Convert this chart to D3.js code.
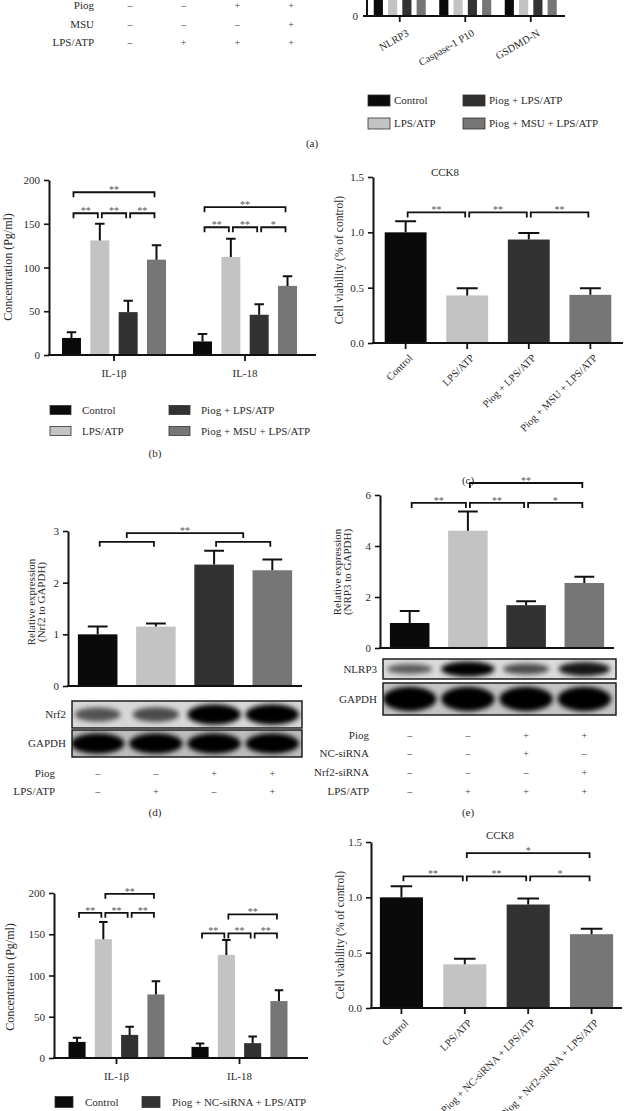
<!DOCTYPE html>
<html>
<head>
<meta charset="utf-8">
<script src="https://cdn.jsdelivr.net/npm/d3@7"></script>
<style>
  body { margin: 0; background: #fff; }
  svg { display: block; font-family: "Liberation Serif", "DejaVu Serif", serif; }
</style>
</head>
<body>
<svg id="fig" width="624" height="1111"></svg>
<script>
// ---- data ----
const groups1 = ["Control", "LPS/ATP", "Piog + LPS/ATP", "Piog + MSU + LPS/ATP"];
const groups2 = ["Control", "LPS/ATP", "Piog + NC-siRNA + LPS/ATP", "Piog + Nrf2-siRNA + LPS/ATP"];
const fills = ["#0a0a0a", "#c3c3c3", "#323232", "#767676"];

// (a) only the foot of the bars is visible
const proteinsA = ["NLRP3", "Caspase-1 P10", "GSDMD-N"];
const valuesA = [[1, 3.4, 1.6, 2.8], [1, 3.0, 1.5, 2.6], [1, 3.2, 1.4, 2.5]];
const tableA = [["Piog", ["–", "–", "+", "+"]], ["MSU", ["–", "–", "–", "+"]], ["LPS/ATP", ["–", "+", "+", "+"]]];

// (b) ELISA
const cytokines = ["IL-1β", "IL-18"];
const meanB = [[19.5, 131, 49, 109], [15.5, 112, 46, 79]];
const errB = [[6.5, 19, 13, 16.5], [8.5, 21, 12, 11]];
const sigB = [[0, 0, 1, 162, "**"], [0, 1, 2, 162, "**"], [0, 2, 3, 162, "**"], [0, 0, 3, 186, "**"],
              [1, 0, 1, 146, "**"], [1, 1, 2, 146, "**"], [1, 2, 3, 146, "*"], [1, 0, 3, 169, "**"]];

// (c) CCK8
const meanC = [1.0, 0.43, 0.935, 0.435];
const errC = [0.1, 0.065, 0.06, 0.06];
const sigC = [[0, 1, 1.18, "**"], [1, 2, 1.18, "**"], [2, 3, 1.18, "**"]];

// (d) Nrf2
const meanD = [1.0, 1.15, 2.35, 2.24];
const errD = [0.15, 0.06, 0.27, 0.21];
const sigD = [[0, 1, 2.79, ""], [2, 3, 2.79, ""], [0.5, 2.5, 2.96, "**"]];
const nrf2Bands = [0.45, 0.5, 1, 1];
const gapdhBandsD = [1, 1, 1, 1];
const tableD = [["Piog", ["–", "–", "+", "+"]], ["LPS/ATP", ["–", "+", "–", "+"]]];

// (e) NLRP3 with siRNA
const meanE = [0.98, 4.6, 1.68, 2.55];
const errE = [0.47, 0.75, 0.15, 0.24];
const sigE = [[0, 1, 5.69, "**"], [1, 2, 5.69, "**"], [2, 3, 5.69, "*"], [1, 3, 6.47, "**"]];
const nlrp3Bands = [0.4, 1, 0.5, 0.85];
const gapdhBandsE = [1, 1, 1, 1];
const tableE = [["Piog", ["–", "–", "+", "+"]], ["NC-siRNA", ["–", "–", "+", "–"]],
                ["Nrf2-siRNA", ["–", "–", "–", "+"]], ["LPS/ATP", ["–", "+", "+", "+"]]];

// (f) ELISA with siRNA
const meanF = [[19.5, 144, 28, 77], [13.5, 125, 18, 69]];
const errF = [[5, 21, 10, 16], [4, 18, 8, 13]];
const sigF = [[0, 0, 1, 176, "**"], [0, 1, 2, 176, "**"], [0, 2, 3, 176, "**"], [0, 1, 3, 199, "**"],
              [1, 0, 1, 151, "**"], [1, 1, 2, 151, "**"], [1, 2, 3, 151, "**"], [1, 1, 3, 174, "**"]];

// (g) CCK8 with siRNA
const meanG = [1.0, 0.395, 0.935, 0.667];
const errG = [0.1, 0.05, 0.055, 0.05];
const sigG = [[0, 1, 1.19, "**"], [1, 2, 1.19, "**"], [2, 3, 1.19, "*"], [1, 3, 1.4, "*"]];

// ---- drawing ----
const svg = d3.select("#fig");
const ink = "#111";
const txt = "#2a2a2a";

const defs = svg.append("defs");
defs.append("filter").attr("id", "blur").attr("x", "-30%").attr("y", "-80%").attr("width", "160%").attr("height", "260%")
  .append("feGaussianBlur").attr("stdDeviation", 2.6);
const grain = defs.append("filter").attr("id", "grain");
grain.append("feTurbulence").attr("type", "fractalNoise").attr("baseFrequency", 0.55).attr("numOctaves", 2).attr("seed", 3);
grain.append("feColorMatrix").attr("type", "saturate").attr("values", 0);

function yAxis(g, y, x0, ticks, fmt) {
  const ax = g.append("g")
    .attr("transform", `translate(${x0},0)`)
    .call(d3.axisLeft(y).tickValues(ticks).tickFormat(fmt).tickSize(5).tickSizeOuter(0).tickPadding(4));
  ax.attr("font-family", null).attr("font-size", 11);
  ax.select(".domain").attr("stroke", ink).attr("stroke-width", 2);
  ax.selectAll(".tick line").attr("stroke", ink).attr("stroke-width", 1.6);
  ax.selectAll(".tick text").attr("fill", txt);
  return ax;
}

function baseline(g, x0, x1, yy, tickXs) {
  g.append("line").attr("x1", x0 - 1).attr("x2", x1).attr("y1", yy).attr("y2", yy)
    .attr("stroke", ink).attr("stroke-width", 2);
  g.selectAll(null).data(tickXs).enter().append("line")
    .attr("x1", d => d).attr("x2", d => d).attr("y1", yy).attr("y2", yy + 6)
    .attr("stroke", ink).attr("stroke-width", 1.8);
}

function bars(g, xs, bw, y, means, errs) {
  g.selectAll(null).data(means).enter().append("rect")
    .attr("x", (d, i) => xs[i] - bw / 2).attr("width", bw)
    .attr("y", d => y(d)).attr("height", d => y(0) - y(d))
    .attr("fill", (d, i) => fills[i]);
  if (!errs) return;
  g.selectAll(null).data(means).enter().append("path")
    .attr("d", (d, i) => `M${xs[i]},${y(d)}V${y(d + errs[i])}M${xs[i] - bw / 4},${y(d + errs[i])}H${xs[i] + bw / 4}`)
    .attr("fill", "none").attr("stroke", ink).attr("stroke-width", 2);
}

function bracket(g, xs, a, b, yy, label) {
  const at = i => {
    const k = Math.floor(i);
    return i === k ? xs[k] : xs[k] + (xs[k + 1] - xs[k]) * (i - k);
  };
  const xa = at(a) + (Number.isInteger(a) ? 2 : 0);
  const xb = at(b) - (Number.isInteger(b) ? 2 : 0);
  g.append("path").attr("d", `M${xa},${yy + 5}V${yy}H${xb}V${yy + 5}`)
    .attr("fill", "none").attr("stroke", ink).attr("stroke-width", 1.8);
  if (label) {
    g.append("text").attr("x", (xa + xb) / 2).attr("y", yy + 1)
      .attr("text-anchor", "middle").attr("font-size", 10).attr("fill", "#555").text(label);
  }
}

function yTitle(g, lines, x, yy, size) {
  lines.forEach((t, i) => {
    g.append("text").attr("transform", `translate(${x + i * 10},${yy}) rotate(-90)`)
      .attr("text-anchor", "middle").attr("dy", "0.35em").attr("font-size", size).attr("fill", txt).text(t);
  });
}

function rotatedLabels(g, xs, yy, labels, angle, dx) {
  g.selectAll(null).data(labels).enter().append("text")
    .attr("transform", (d, i) => `translate(${xs[i] + dx},${yy}) rotate(${angle})`)
    .attr("text-anchor", "end").attr("dy", "0.35em").attr("font-size", 10.5).attr("fill", txt)
    .text(d => d);
}

function legend(g, items, colX, rowY, boxW, boxH, off) {
  items.forEach((name, i) => {
    const row = i % 2;
    if (row >= rowY.length) return;
    const cx = colX[Math.floor(i / 2)], cy = rowY[row];
    g.append("rect").attr("x", cx).attr("y", cy - boxH / 2).attr("width", boxW).attr("height", boxH)
      .attr("fill", fills[i]).attr("stroke", "#333").attr("stroke-width", 0.8);
    g.append("text").attr("x", cx + off).attr("y", cy).attr("dy", "0.35em")
      .attr("font-size", 11).attr("fill", txt).text(name);
  });
}

function table(g, rows, labelX, colXs, rowYs) {
  rows.forEach(([name, signs], r) => {
    g.append("text").attr("x", labelX).attr("y", rowYs[r]).attr("dy", "0.35em")
      .attr("text-anchor", "end").attr("font-size", 11).attr("fill", txt).text(name);
    signs.forEach((s, c) => {
      g.append("text").attr("x", colXs[c]).attr("y", rowYs[r]).attr("dy", "0.35em")
        .attr("text-anchor", "middle").attr("font-size", 10).attr("fill", "#444").text(s);
    });
  });
}

let clipN = 0;
function blot(g, name, xs, x0, x1, top, h, levels, bg, labelX) {
  const id = "clip" + (clipN++);
  defs.append("clipPath").attr("id", id).append("rect").attr("x", x0).attr("y", top).attr("width", x1 - x0).attr("height", h);
  const gb = g.append("g").attr("clip-path", `url(#${id})`);
  gb.append("rect").attr("x", x0).attr("y", top).attr("width", x1 - x0).attr("height", h).attr("fill", bg);
  gb.append("rect").attr("x", x0).attr("y", top).attr("width", x1 - x0).attr("height", h)
    .attr("filter", "url(#grain)").attr("opacity", 0.18);
  const lane = (xs[1] - xs[0]);
  gb.selectAll(null).data(levels).enter().append("ellipse")
    .attr("cx", (d, i) => xs[i]).attr("cy", top + h / 2)
    .attr("rx", d => lane * (0.34 + 0.12 * d)).attr("ry", d => h * (0.16 + 0.22 * d))
    .attr("fill", "#000").attr("opacity", d => 0.3 + 0.7 * d).attr("filter", "url(#blur)");
  g.append("rect").attr("x", x0).attr("y", top).attr("width", x1 - x0).attr("height", h)
    .attr("fill", "none").attr("stroke", ink).attr("stroke-width", 1.4);
  g.append("text").attr("x", labelX).attr("y", top + h / 2).attr("dy", "0.35em")
    .attr("text-anchor", "end").attr("font-size", 11).attr("fill", txt).text(name);
}

function caption(text, x, yy) {
  svg.append("text").attr("x", x).attr("y", yy).attr("dy", "0.35em").attr("text-anchor", "middle")
    .attr("font-size", 11).attr("fill", txt).text(text);
}

function centers(x0, x1, pi, po) {
  const xb = d3.scaleBand().domain(d3.range(4)).range([x0, x1]).paddingInner(pi).paddingOuter(po);
  return { xs: d3.range(4).map(i => xb(i) + xb.bandwidth() / 2), bw: xb.bandwidth() };
}

// ---- (a) ----
{
  const g = svg.append("g");
  const lanesA = d3.scalePoint().domain(d3.range(4)).range([103, 318]).padding(0.5);
  table(g, tableA, 94, d3.range(4).map(i => lanesA(i)), [5, 24, 42]);

  const y = d3.scaleLinear().domain([0, 1]).range([16, -40]);
  const xo = d3.scalePoint().domain(proteinsA).range([367, 563.5]).padding(0.5);
  const xi = d3.scaleBand().domain(d3.range(4)).range([-26, 26]).paddingInner(0.36);
  proteinsA.forEach((p, k) => {
    const xs = d3.range(4).map(i => xo(p) + xi(i) + xi.bandwidth() / 2);
    bars(g, xs, xi.bandwidth(), y, valuesA[k], null);
  });
  g.append("line").attr("x1", 367).attr("x2", 367).attr("y1", 16).attr("y2", -5).attr("stroke", ink).attr("stroke-width", 2);
  baseline(g, 364, 565, 16, proteinsA.map(p => xo(p)));
  g.append("text").attr("x", 358).attr("y", 16).attr("dy", "0.35em").attr("text-anchor", "end")
    .attr("font-size", 11).attr("fill", txt).text("0");
  rotatedLabels(g, proteinsA.map(p => xo(p)), 32, proteinsA, -30, 8);
  legend(g, groups1, [368, 463], [100.5, 123.5], 22, 11, 26);
  caption("(a)", 312, 143);
}

// ---- (b) and (f): grouped ELISA ----
function grouped(means, errs, sigs, x0, x1, y0, yTop, pOuter, inner, pi, cats) {
  const g = svg.append("g");
  const y = d3.scaleLinear().domain([0, 200]).range([y0, yTop]);
  const xo = d3.scalePoint().domain(cats).range([x0, x1]).padding(pOuter);
  const xi = d3.scaleBand().domain(d3.range(4)).range([-inner, inner]).paddingInner(pi);
  const all = [];
  cats.forEach((c, k) => {
    const xs = d3.range(4).map(i => xo(c) + xi(i) + xi.bandwidth() / 2);
    all.push(xs);
    bars(g, xs, xi.bandwidth(), y, means[k], errs[k]);
  });
  yAxis(g, y, x0, [0, 50, 100, 150, 200], d3.format("d"));
  baseline(g, x0, x1 + 6, y0, cats.map(c => xo(c)));
  g.selectAll(null).data(cats).enter().append("text")
    .attr("x", d => xo(d)).attr("y", y0 + 18).attr("dy", "0.35em").attr("text-anchor", "middle")
    .attr("font-size", 11).attr("fill", txt).text(d => d);
  sigs.forEach(([k, a, b, lv, lab]) => bracket(g, all[k], a, b, y(lv), lab));
  return g;
}

{
  const g = grouped(meanB, errB, sigB, 49, 310, 355, 180, 0.496, 52, 0.33, cytokines);
  yTitle(g, ["Concentration (Pg/ml)"], 8, 267, 12);
  legend(g, groups1, [50, 169], [410, 431], 21, 9, 32);
  caption("(b)", 155, 453);
}
{
  const g = grouped(meanF, errF, sigF, 54, 302, 1058, 893, 0.508, 48, 0.35, cytokines);
  yTitle(g, ["Concentration (Pg/ml)"], 10, 977, 12);
  legend(g, groups2, [55, 142], [1102], 18, 11, 30);
}

// ---- single-group panels ----
function single(means, errs, sigs, x0, x1, y0, yTop, max, ticks, fmt, po, withTicks) {
  const g = svg.append("g");
  const y = d3.scaleLinear().domain([0, max]).range([y0, yTop]);
  const { xs, bw } = centers(x0, x1, 0.32, po);
  bars(g, xs, bw, y, means, errs);
  yAxis(g, y, x0, ticks, fmt);
  baseline(g, x0, x1, y0, withTicks ? xs : []);
  sigs.forEach(([a, b, lv, lab]) => bracket(g, xs, a, b, y(lv), lab));
  return { g, xs, bw };
}

// (c)
{
  const { g, xs } = single(meanC, errC, sigC, 373, 623, 343, 177, 1.5, [0, 0.5, 1, 1.5], d3.format(".1f"), 0.19, true);
  g.append("text").attr("x", 445).attr("y", 172).attr("dy", "0.35em").attr("text-anchor", "middle")
    .attr("font-size", 11).attr("fill", txt).text("CCK8");
  yTitle(g, ["Cell viability (% of control)"], 339, 260, 11.5);
  rotatedLabels(g, xs, 356, groups1, -45, 5);
  caption("(c)", 468, 480);
}

// (d)
{
  const { g, xs } = single(meanD, errD, sigD, 68, 302, 686, 531, 3, [0, 1, 2, 3], d3.format("d"), 0.17, false);
  yTitle(g, ["Relative expression", "(Nrf2 to GAPDH)"], 31, 602, 11);
  blot(g, "Nrf2", xs, 72, 302, 701, 27, nrf2Bands, "#dadada", 66);
  blot(g, "GAPDH", xs, 72, 302, 730, 27, gapdhBandsD, "#bdbdbd", 66);
  table(g, tableD, 55, xs, [773, 791]);
  caption("(d)", 155, 812);
}

// (e)
{
  const { g, xs } = single(meanE, errE, sigE, 380, 614, 648, 495, 6, [0, 2, 4, 6], d3.format("d"), 0.17, false);
  yTitle(g, ["Relative expression", "(NRP3 to GAPDH)"], 337, 572, 11);
  blot(g, "NLRP3", xs, 383, 616, 659, 20, nlrp3Bands, "#dedede", 377);
  blot(g, "GAPDH", xs, 383, 616, 683, 32, gapdhBandsE, "#c4c4c4", 377);
  table(g, tableE, 369, xs, [735, 753, 772, 791]);
  caption("(e)", 468, 812);
}

// (g)
{
  const { g, xs } = single(meanG, errG, sigG, 371, 622, 1008, 842, 1.5, [0, 0.5, 1, 1.5], d3.format(".1f"), 0.14, true);
  g.append("text").attr("x", 500).attr("y", 835).attr("dy", "0.35em").attr("text-anchor", "middle")
    .attr("font-size", 11).attr("fill", txt).text("CCK8");
  yTitle(g, ["Cell viability (% of control)"], 340, 935, 11.5);
  rotatedLabels(g, xs, 1021, groups2, -45, 5);
}
</script>
</body>
</html>
